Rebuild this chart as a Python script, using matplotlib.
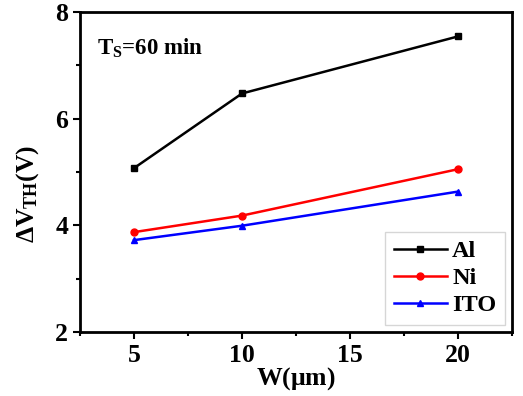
import matplotlib
matplotlib.use('Agg')
import matplotlib.pyplot as plt
from matplotlib.ticker import MultipleLocator

# data
w = [5, 10, 20]
al = [5.07, 6.47, 7.54]
ni = [3.87, 4.18, 5.05]
ito = [3.72, 3.99, 4.63]

plt.rcParams['font.family'] = 'Liberation Serif'
plt.rcParams['font.weight'] = 'bold'
plt.rcParams['mathtext.fontset'] = 'custom'
plt.rcParams['mathtext.rm'] = 'Liberation Serif:bold'
plt.rcParams['mathtext.it'] = 'Liberation Serif:bold'
plt.rcParams['mathtext.bf'] = 'Liberation Serif:bold'

fig = plt.figure(figsize=(5.23, 3.96), dpi=100)
ax = fig.add_axes([0.153, 0.162, 0.826, 0.808])

ax.plot(w, al, color='black', marker='s', markersize=5, lw=1.8, label='Al')
ax.plot(w, ni, color='red', marker='o', markersize=5, lw=1.8, label='Ni')
ax.plot(w, ito, color='blue', marker='^', markersize=5, lw=1.8, label='ITO')

ax.set_xlim(2.5, 22.5)
ax.set_ylim(2, 8)
ax.xaxis.set_major_locator(MultipleLocator(5))
ax.xaxis.set_minor_locator(MultipleLocator(2.5))
ax.yaxis.set_major_locator(MultipleLocator(2))
ax.yaxis.set_minor_locator(MultipleLocator(1))
ax.tick_params(which='both', direction='out', top=False, right=False, width=1.5)
ax.tick_params(which='major', length=5, labelsize=18.5)
ax.tick_params(which='minor', length=3)
for s in ax.spines.values():
    s.set_linewidth(2)

ax.set_xlabel(r'W($\mu$m)', fontsize=18.5, fontweight='bold', labelpad=-1)
ax.set_ylabel(r'$\Delta$V$_\mathrm{TH}$(V)', fontsize=18.5, fontweight='bold')
ax.yaxis.set_label_coords(-0.09, 0.43)
ax.text(0.04, 0.865, r'T$_\mathrm{S}$=60 min', transform=ax.transAxes,
        fontsize=16.5, fontweight='bold')

ax.legend(loc='lower right', fontsize=17.5, handlelength=2.2, fancybox=False,
          edgecolor='#cccccc', borderaxespad=0.3, labelspacing=0.2,
          handletextpad=0.2, borderpad=0.35)

plt.savefig('out.png', dpi=100)
